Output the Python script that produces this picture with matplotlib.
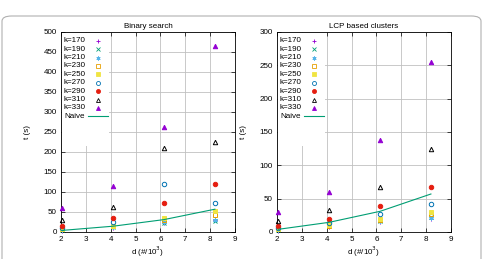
import matplotlib
matplotlib.use("Agg")
import matplotlib.pyplot as plt
from matplotlib.patches import FancyBboxPatch, Rectangle

plt.rcParams['font.family'] = ['Liberation Sans', 'DejaVu Sans']

d = [2.048, 4.096, 6.144, 8.192]
ks = ["k=170", "k=190", "k=210", "k=230", "k=250", "k=270", "k=290", "k=310", "k=330"]

binary = {
    "k=170": [3, 11, 22, 30],
    "k=190": [4, 12, 23, 28],
    "k=210": [5, 12, 25, 30],
    "k=230": [7, 14, 30, 43],
    "k=250": [8, 15, 34, 52],
    "k=270": [10, 24, 119, 73],
    "k=290": [16, 35, 73, 120],
    "k=310": [31, 63, 211, 226],
    "k=330": [59, 116, 263, 466],
}
lcp = {
    "k=170": [2, 8, 15, 20],
    "k=190": [3, 12, 17, 22],
    "k=210": [3, 9, 16, 21],
    "k=230": [4, 9, 18, 27],
    "k=250": [4, 10, 19.5, 29.5],
    "k=270": [6, 13, 26.5, 41.5],
    "k=290": [9.5, 19.5, 39, 68],
    "k=310": [16.5, 33, 67, 124.7],
    "k=330": [30.5, 60.6, 137.7, 255],
}
naive = [4, 14.5, 31, 57]

titles = ["Binary search", "LCP based clusters"]
ymaxes = [500, 300]
xticks = [2, 3, 4, 5, 6, 7, 8, 9]

styles = {
    "k=170": dict(marker="+", color="#9400D3", mfc="none"),
    "k=190": dict(marker="x", color="#009E73", mfc="none"),
    "k=210": dict(marker=(6, 2, 0), color="#56B4E9", mfc="none"),
    "k=230": dict(marker="s", color="#E69F00", mfc="none"),
    "k=250": dict(marker="s", color="#F0E442", mfc="#F0E442"),
    "k=270": dict(marker="o", color="#0072B2", mfc="none"),
    "k=290": dict(marker="o", color="#E51E10", mfc="#E51E10"),
    "k=310": dict(marker="^", color="black", mfc="none"),
    "k=330": dict(marker="^", color="#9400D3", mfc="#9400D3"),
}
naive_color = "#009E73"

FS = 5.8
MS = 3.2
fig = plt.figure(figsize=(4.84, 2.59), dpi=100)
fig.patches.append(FancyBboxPatch((2 / 484, -0.1), 479 / 484, 1.1 - 16 / 259,
                                  boxstyle="round,pad=0,rounding_size=0.02",
                                  transform=fig.transFigure, fc="white",
                                  ec="#b0b0b0", lw=0.8, zorder=-10))

lefts = [61 / 484, 277 / 484]
for i, data in enumerate([binary, lcp]):
    ax = fig.add_axes([lefts[i], 27 / 259, 174 / 484, 200 / 259])
    ax.set_xlim(2, 9)
    ax.set_ylim(0, ymaxes[i])
    ax.set_xticks(xticks)
    ax.set_yticks(range(0, ymaxes[i] + 1, 50))
    ax.grid(True, color="#c0c0c0", lw=0.6)
    ax.set_axisbelow(True)
    ax.tick_params(direction="in", top=True, right=True, labelsize=FS,
                   length=3, width=0.5, pad=3)
    for s in ax.spines.values():
        s.set_linewidth(0.6)
    ax.set_title(titles[i], fontsize=FS, pad=3)
    ax.set_xlabel("d (#/10$^{3}$)", fontsize=FS, labelpad=1)
    ax.set_ylabel("t (s)", fontsize=FS, labelpad=9)

    # legend background
    ax.add_patch(Rectangle((0.005, 0.43), 0.27, 0.565, transform=ax.transAxes,
                           fc="white", ec="none", zorder=2))
    for k in ks:
        st = styles[k]
        ax.plot(d, data[k], ls="none", marker=st["marker"], color=st["color"],
                mfc=st["mfc"], ms=MS, mew=0.7, zorder=3, clip_on=False)
    ax.plot(d, naive, color=naive_color, lw=0.8, zorder=3)

    # manual gnuplot-like legend
    y0 = 1 - 8.7 / 200
    dy = 8.4 / 200
    xr = 24 / 174
    xm = 37 / 174
    for j, k in enumerate(ks):
        st = styles[k]
        yy = y0 - j * dy
        ax.text(xr, yy, k, transform=ax.transAxes, ha="right", va="center",
                fontsize=FS, zorder=4)
        ax.plot([xm], [yy], transform=ax.transAxes, ls="none",
                marker=st["marker"], color=st["color"], mfc=st["mfc"],
                ms=MS * 0.9, mew=0.6, zorder=4)
    yy = y0 - 9 * dy
    ax.text(xr, yy, "Naive", transform=ax.transAxes, ha="right", va="center",
            fontsize=FS, zorder=4)
    ax.plot([27 / 174, 47 / 174], [yy, yy], transform=ax.transAxes,
            color=naive_color, lw=0.8, zorder=4)

fig.savefig("out.png", dpi=100)
